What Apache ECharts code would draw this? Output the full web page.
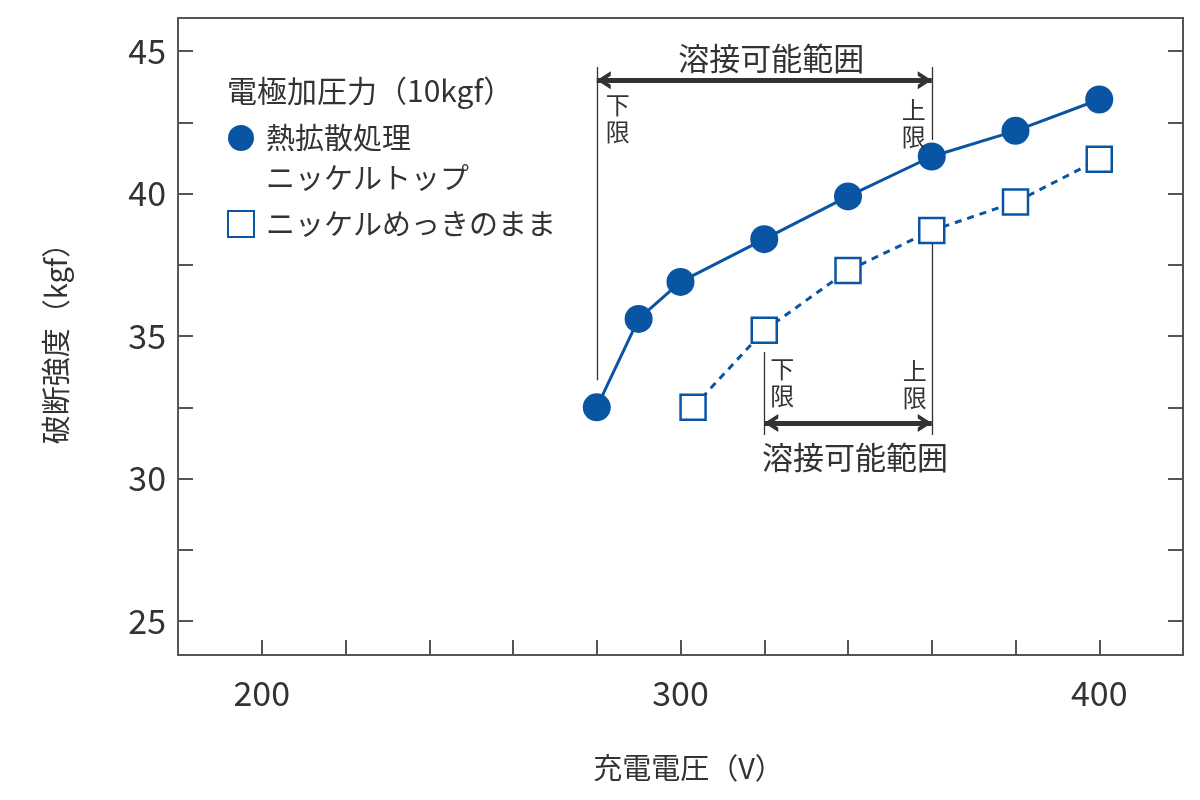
<!DOCTYPE html>
<html>
<head>
<meta charset="utf-8">
<script src="https://cdn.jsdelivr.net/npm/echarts@6/dist/echarts.min.js"></script>
<style>
html,body{margin:0;padding:0;background:#fff;}
#c{width:1200px;height:800px;}
</style>
</head>
<body>
<div id="c"></div>
<script>
// ---- data ----
const voltageTop = [280, 290, 300, 320, 340, 360, 380, 400];
const strengthTop = [32.5, 35.6, 36.9, 38.4, 39.9, 41.3, 42.2, 43.3];
const voltagePlated = [303, 320, 340, 360, 380, 400];
const strengthPlated = [32.5, 35.2, 37.3, 38.7, 39.7, 41.2];
const xTickLabels = [200, 300, 400];
const yTickLabels = [25, 30, 35, 40, 45];
const yTickMarks = [25, 27.5, 30, 32.5, 35, 37.5, 40, 42.5, 45];
const rangeTop = [280, 360];     // 熱拡散処理ニッケルトップ 溶接可能範囲
const rangePlated = [320, 360];  // ニッケルめっきのまま 溶接可能範囲
const seriesNames = ['熱拡散処理\nニッケルトップ', 'ニッケルめっきのまま'];
const legendTitle = '電極加圧力（10kgf）';
const rangeLabel = '溶接可能範囲';

const FONT = '"Noto Sans CJK JP", "Noto Sans", sans-serif';
const BLUE = '#0a55a3';
const TXT = '#333333';
const AX = '#555555';

const chevron = 'path://M10,0 L10.01,0 L10,0.01 Z M0,28 L10,14 L20,28 L15,28 L10,21 L5,28 Z';

function vline(x, y0, y1) {
  return [
    { coord: [x, y0], symbol: 'none', lineStyle: { color: TXT, width: 1.3, type: 'solid' }, label: { show: false } },
    { coord: [x, y1], symbol: 'none' }
  ];
}
function arrow(x0, x1, y, pos, dist) {
  return [
    { coord: [x0, y], symbol: chevron, symbolSize: [18, 28],
      lineStyle: { color: TXT, width: 5, type: 'solid' },
      label: { show: true, formatter: rangeLabel, position: pos, distance: dist, offset: [7, 0],
               fontSize: 31, color: TXT, fontFamily: FONT } },
    { coord: [x1, y], symbol: chevron, symbolSize: [18, 28] }
  ];
}
function vtext(x, y, txt, side, dist) {
  return {
    coord: [x, y], symbol: 'rect', symbolSize: 0,
    label: { show: true, formatter: txt, position: side, distance: dist,
             fontSize: 24, lineHeight: 27, color: TXT, fontFamily: FONT,
             align: side === 'right' ? 'left' : 'right' }
  };
}

const chart = echarts.init(document.getElementById('c'));
const yMin = 23.81, yMax = 46.16;
chart.setOption({
  animation: false,
  backgroundColor: '#fff',
  textStyle: { fontFamily: FONT },
  title: {
    text: legendTitle, left: 222, top: 71,
    textStyle: { fontSize: 30, fontWeight: 'normal', color: TXT, fontFamily: FONT }
  },
  legend: {
    orient: 'vertical', left: 227, top: 78, padding: 0, itemWidth: 26, itemHeight: 26, itemGap: 6,
    textStyle: { fontSize: 29, color: TXT, lineHeight: 40, fontFamily: FONT, padding: [0, 0, 0, 7] },
    formatter: (name) => name === seriesNames[0] ? '\n' + name : name,
    data: [
      { name: seriesNames[0], icon: 'circle' },
      { name: seriesNames[1], icon: 'rect' }
    ]
  },
  grid: { left: 178, right: 17, top: 18, bottom: 145, show: true, borderColor: AX, borderWidth: 2, backgroundColor: 'transparent' },
  xAxis: {
    type: 'value', min: 180, max: 420, interval: 20,
    name: '充電電圧（V）', nameLocation: 'middle', nameGap: 98,
    nameTextStyle: { fontSize: 29, color: TXT, fontFamily: FONT, padding: [0, 0, 0, 16] },
    axisLine: { lineStyle: { color: AX, width: 2 } },
    axisTick: { inside: true, length: 15, lineStyle: { color: AX, width: 2 } },
    axisLabel: { customValues: xTickLabels, fontSize: 34, color: TXT, margin: 21, fontFamily: FONT },
    splitLine: { show: false }
  },
  yAxis: [{
    type: 'value', min: yMin, max: yMax,
    name: '破断強度（kgf）', nameLocation: 'middle', nameGap: 108, nameRotate: 90,
    nameTextStyle: { fontSize: 29, color: TXT, fontFamily: FONT },
    axisLine: { show: true, lineStyle: { color: AX, width: 2 } },
    axisTick: { show: true, inside: true, length: 15, customValues: yTickMarks, lineStyle: { color: AX, width: 2 } },
    axisLabel: { customValues: yTickLabels, fontSize: 34, color: TXT, margin: 12, fontFamily: FONT },
    splitLine: { show: false }
  }, {
    type: 'value', min: yMin, max: yMax, position: 'right',
    axisLine: { show: true, lineStyle: { color: AX, width: 2 } },
    axisTick: { show: true, inside: true, length: 15, customValues: yTickMarks, lineStyle: { color: AX, width: 2 } },
    axisLabel: { show: false },
    splitLine: { show: false }
  }],
  series: [
    {
      name: 'annotations', type: 'line', data: [], silent: true, z: 1,
      markLine: {
        silent: true, animation: false, symbol: ['none', 'none'],
        data: [
          vline(rangeTop[0], 44.44, 33.45),
          vline(rangeTop[1], 44.44, 41.88),
          arrow(rangeTop[0], rangeTop[1], 43.98, 'insideMiddleTop', 6),
          vline(rangePlated[0], 34.44, 31.53),
          vline(rangePlated[1], 38.26, 31.53),
          arrow(rangePlated[0], rangePlated[1], 31.95, 'insideMiddleBottom', 19)
        ]
      },
      markPoint: {
        silent: true, animation: false,
        data: [
          vtext(rangeTop[0], 42.65, '下\n限', 'right', 9),
          vtext(rangeTop[1], 42.45, '上\n限', 'left', 6),
          vtext(rangePlated[0], 33.38, '下\n限', 'right', 6),
          vtext(rangePlated[1], 33.3, '上\n限', 'left', 5)
        ]
      }
    },
    {
      name: seriesNames[0], type: 'line', z: 3,
      data: voltageTop.map((v, i) => [v, strengthTop[i]]),
      symbol: 'circle', symbolSize: 28,
      itemStyle: { color: BLUE },
      lineStyle: { color: BLUE, width: 3 }
    },
    {
      name: seriesNames[1], type: 'line', z: 3,
      data: voltagePlated.map((v, i) => [v, strengthPlated[i]]),
      symbol: 'rect', symbolSize: 25,
      itemStyle: { color: '#ffffff', borderColor: BLUE, borderWidth: 2.5 },
      lineStyle: { color: BLUE, width: 3, type: [7, 6] }
    }
  ]
});
</script>
</body>
</html>
